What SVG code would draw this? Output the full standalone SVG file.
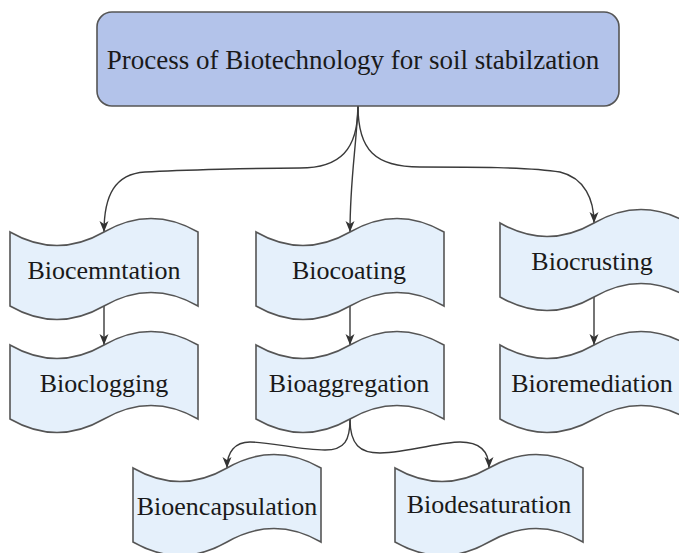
<svg xmlns="http://www.w3.org/2000/svg" width="679" height="553" viewBox="0 0 679 553">
  <style>
    .root { fill: #b3c3ea; stroke: #555555; stroke-width: 1.6; }
    .tape { fill: #e5f0fb; stroke: #555555; stroke-width: 1.6; }
    .lbl { font-family: 'Liberation Serif', 'Times New Roman', serif; font-size: 26px; fill: #1a1a1a; text-anchor: middle; }
    .rootlbl { font-size: 27px; }
    .edge { fill: none; stroke: #3a3a3a; stroke-width: 1.4; marker-end: url(#arrow); }
  </style>
  <defs>
    <marker id="arrow" markerUnits="userSpaceOnUse" markerWidth="12" markerHeight="12" viewBox="0 0 12 12" refX="11" refY="6" orient="auto">
      <path d="M0,1.5 L11,6 L0,10.5 L3,6 Z" fill="#333333"/>
    </marker>
    <path id="tapeShape" d="M0,15 Q47,42 94,15 Q141,-12 188,15 L188,89 Q141,62 94,89 Q47,116 0,89 Z"/>
  </defs>

  <rect width="679" height="553" fill="#ffffff"/>

  <g id="connectors">
    <path class="edge" d="M358,106 C358,150 340,168 300,168 C260,168 180,170 145,172 C115,174 104,195 104,232"/>
    <path class="edge" d="M358,106 C356,150 350,180 350,232"/>
    <path class="edge" d="M358,106 C358,150 375,167 420,167 C470,167 530,167 560,172 C585,178 594,200 594,223"/>
    <path class="edge" d="M104,306 L104,345"/>
    <path class="edge" d="M350,306 L350,345"/>
    <path class="edge" d="M594,297 L594,345"/>
    <path class="edge" d="M350,419 C350,440 345,450 325,450 C300,450 270,442 250,442 C235,442 227,452 227,468"/>
    <path class="edge" d="M350,419 C350,445 360,453 380,453 C410,452 440,442 460,442 C478,442 489,450 489,468"/>
  </g>

  <g id="root">
    <rect class="root" x="97" y="12" width="522" height="94" rx="15" ry="15"/>
    <text class="lbl rootlbl" x="353" y="69">Process of Biotechnology for soil stabilzation</text>
  </g>

  <g id="biocemntation">
    <use href="#tapeShape" class="tape" transform="translate(10,217)"/>
    <text class="lbl" x="104" y="279">Biocemntation</text>
  </g>
  <g id="bioclogging">
    <use href="#tapeShape" class="tape" transform="translate(10,330)"/>
    <text class="lbl" x="104" y="392">Bioclogging</text>
  </g>
  <g id="biocoating">
    <use href="#tapeShape" class="tape" transform="translate(256,217)"/>
    <text class="lbl" x="349" y="279">Biocoating</text>
  </g>
  <g id="bioaggregation">
    <use href="#tapeShape" class="tape" transform="translate(256,330)"/>
    <text class="lbl" x="349" y="392">Bioaggregation</text>
  </g>
  <g id="biocrusting">
    <use href="#tapeShape" class="tape" transform="translate(500,208)"/>
    <text class="lbl" x="592" y="270">Biocrusting</text>
  </g>
  <g id="bioremediation">
    <use href="#tapeShape" class="tape" transform="translate(500,330)"/>
    <text class="lbl" x="592" y="392">Bioremediation</text>
  </g>
  <g id="bioencapsulation">
    <use href="#tapeShape" class="tape" transform="translate(133,453)"/>
    <text class="lbl" x="227" y="515">Bioencapsulation</text>
  </g>
  <g id="biodesaturation">
    <use href="#tapeShape" class="tape" transform="translate(395,453)"/>
    <text class="lbl" x="489" y="513">Biodesaturation</text>
  </g>
</svg>
